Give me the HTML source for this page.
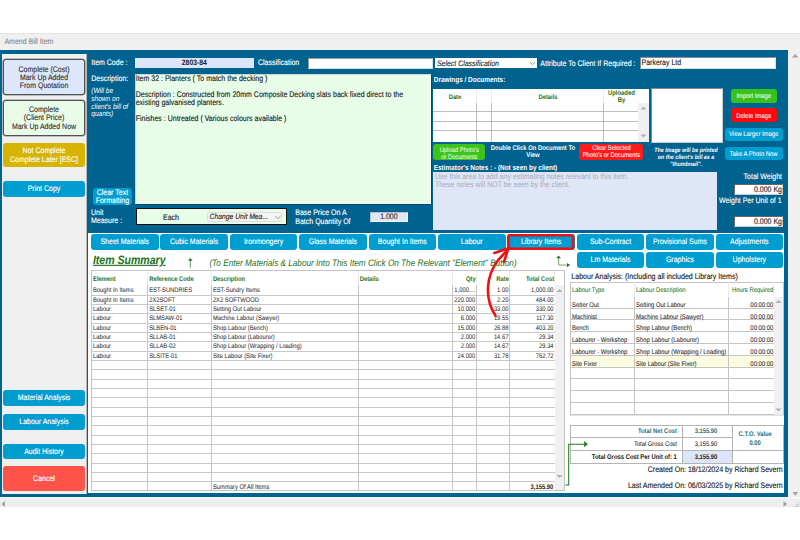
<!DOCTYPE html><html><head><meta charset="utf-8"><style>
html,body{margin:0;padding:0;width:800px;height:540px;overflow:hidden;background:#fff;}
body{position:relative;font-family:"Liberation Sans",sans-serif;text-rendering:geometricPrecision;}
div{position:absolute;box-sizing:border-box;}
.t{height:20px;line-height:20px;white-space:nowrap;transform:scaleY(1.15);transform-origin:50% 8.8px;}
</style></head><body>
<div style="left:0.00px;top:33.00px;width:800.00px;height:17.00px;background:#f0f0f0;"></div>
<div class="t" style="left:4.40px;top:33.20px;font-size:7px;color:#8c8c8c;-webkit-text-stroke:0.12px #8c8c8c;">Amend Bill Item</div>
<div style="left:0.00px;top:32.50px;width:800.00px;height:0.80px;background:#e4e4e4;"></div>
<div style="left:0.00px;top:50.20px;width:788.00px;height:446.80px;background:#00628f;"></div>
<div style="left:788.00px;top:50.20px;width:12.00px;height:446.80px;background:#f0f0f0;"></div>
<div style="left:0.00px;top:497.00px;width:800.00px;height:10.00px;background:#eeeeee;border-top:2px solid #f6f6f6;"></div>
<div style="left:2.00px;top:53.50px;width:85.00px;height:440.00px;background:#efefef;border-right:1px solid #b8b8b8;"></div>
<div style="left:3.00px;top:59.40px;width:82.00px;height:35.60px;background:#dde7fb;border-radius:3px;border:1px solid #505050;box-shadow:0 0 0 0.6px #8a8a8a;"></div>
<div class="t" style="left:-206.00px;width:500px;text-align:center;top:60.65px;font-size:7px;color:#333;-webkit-text-stroke:0.12px #333;">Complete (Cost)</div>
<div class="t" style="left:-206.00px;width:500px;text-align:center;top:68.80px;font-size:7px;color:#333;-webkit-text-stroke:0.12px #333;">Mark Up Added</div>
<div class="t" style="left:-206.00px;width:500px;text-align:center;top:76.90px;font-size:7px;color:#333;-webkit-text-stroke:0.12px #333;">From Quotation</div>
<div style="left:3.00px;top:100.00px;width:82.00px;height:35.80px;background:#e8fce8;border-radius:3px;border:1px solid #505050;box-shadow:0 0 0 0.6px #8a8a8a;"></div>
<div class="t" style="left:-206.00px;width:500px;text-align:center;top:101.30px;font-size:7px;color:#333;-webkit-text-stroke:0.12px #333;">Complete</div>
<div class="t" style="left:-206.00px;width:500px;text-align:center;top:109.40px;font-size:7px;color:#333;-webkit-text-stroke:0.12px #333;">(Client Price)</div>
<div class="t" style="left:-206.00px;width:500px;text-align:center;top:117.50px;font-size:7px;color:#333;-webkit-text-stroke:0.12px #333;">Mark Up Added Now</div>
<div style="left:3.00px;top:142.75px;width:82.00px;height:24.50px;background:#d6b400;border-radius:3px;"></div>
<div class="t" style="left:-206.00px;width:500px;text-align:center;top:142.40px;font-size:7px;color:#fff;-webkit-text-stroke:0.12px #fff;">Not Complete</div>
<div class="t" style="left:-206.00px;width:500px;text-align:center;top:151.30px;font-size:7px;color:#fff;-webkit-text-stroke:0.12px #fff;">Complete Later [ESC]</div>
<div style="left:3.00px;top:181.00px;width:82.00px;height:16.00px;background:#009dd0;border-radius:3px;"></div>
<div class="t" style="left:-206.00px;width:500px;text-align:center;top:180.00px;font-size:7px;color:#fff;-webkit-text-stroke:0.12px #fff;">Print Copy</div>
<div style="left:3.00px;top:390.00px;width:82.00px;height:16.00px;background:#009dd0;border-radius:3px;"></div>
<div class="t" style="left:-206.00px;width:500px;text-align:center;top:389.40px;font-size:7px;color:#fff;-webkit-text-stroke:0.12px #fff;">Material Analysis</div>
<div style="left:3.00px;top:414.00px;width:82.00px;height:16.00px;background:#009dd0;border-radius:3px;"></div>
<div class="t" style="left:-206.00px;width:500px;text-align:center;top:413.30px;font-size:7px;color:#fff;-webkit-text-stroke:0.12px #fff;">Labour Analysis</div>
<div style="left:3.00px;top:443.75px;width:82.00px;height:15.65px;background:#009dd0;border-radius:3px;"></div>
<div class="t" style="left:-206.00px;width:500px;text-align:center;top:442.90px;font-size:7px;color:#fff;-webkit-text-stroke:0.12px #fff;">Audit History</div>
<div style="left:3.00px;top:466.00px;width:82.00px;height:24.90px;background:#ff5248;border-radius:3px;"></div>
<div class="t" style="left:-206.00px;width:500px;text-align:center;top:469.65px;font-size:7px;color:#fff;-webkit-text-stroke:0.12px #fff;">Cancel</div>
<div class="t" style="left:91.25px;top:54.40px;font-size:7px;color:#fff;-webkit-text-stroke:0.12px #fff;">Item Code :</div>
<div style="left:135.00px;top:58.00px;width:118.50px;height:10.00px;background:#dde6f8;"></div>
<div class="t" style="left:-55.70px;width:500px;text-align:center;top:53.80px;font-size:6.8px;color:#1a1a1a;font-weight:bold;">2803-84</div>
<div class="t" style="left:258.00px;top:54.20px;font-size:7px;color:#fff;-webkit-text-stroke:0.12px #fff;">Classification</div>
<div style="left:308.40px;top:58.00px;width:124.40px;height:10.80px;background:#fff;border:1px solid #9a9a9a;border-right-color:#ddd;border-bottom-color:#ddd;"></div>
<div style="left:434.70px;top:58.00px;width:102.60px;height:10.40px;background:#fff;"></div>
<div class="t" style="left:437.00px;top:54.60px;font-size:6.93px;color:#222;font-style:italic;-webkit-text-stroke:0.1px #222;">Select Classification</div>
<div class="t" style="left:540.30px;top:54.70px;font-size:7px;color:#fff;-webkit-text-stroke:0.12px #fff;">Attribute To Client If Required :</div>
<div style="left:640.30px;top:57.20px;width:136.20px;height:11.60px;background:#fff;border:1px solid #8a8a8a;border-right-color:#ddd;border-bottom-color:#ddd;"></div>
<div class="t" style="left:641.50px;top:53.80px;font-size:7px;color:#222;-webkit-text-stroke:0.12px #222;">Parkeray Ltd</div>
<div class="t" style="left:91.25px;top:69.90px;font-size:7px;color:#fff;-webkit-text-stroke:0.12px #fff;">Description:</div>
<div class="t" style="left:91.25px;top:82.15px;font-size:6.55px;color:#fff;font-style:italic;">(Will be</div>
<div class="t" style="left:91.25px;top:89.90px;font-size:6.55px;color:#fff;font-style:italic;">shown on</div>
<div class="t" style="left:91.25px;top:97.50px;font-size:6.55px;color:#fff;font-style:italic;">client's bill of</div>
<div class="t" style="left:91.25px;top:104.90px;font-size:6.55px;color:#fff;font-style:italic;">quants)</div>
<div style="left:135.30px;top:73.60px;width:295.50px;height:130.70px;background:#e8fde8;border:1px solid #c9d6c9;border-right-color:#f8fff4;border-bottom-color:#f8fff4;box-shadow:1px 1px 0 #004c78;"></div>
<div class="t" style="left:135.70px;top:69.90px;font-size:7.03px;color:#222;-webkit-text-stroke:0.12px #222;">Item 32 : Planters ( To match the decking )</div>
<div class="t" style="left:135.70px;top:86.30px;font-size:7.03px;color:#222;-webkit-text-stroke:0.12px #222;">Description : Constructed from 20mm Composite Decking slats back fixed direct to the</div>
<div class="t" style="left:135.70px;top:94.40px;font-size:7.03px;color:#222;-webkit-text-stroke:0.12px #222;">existing galvanised planters.</div>
<div class="t" style="left:135.70px;top:110.40px;font-size:7.03px;color:#222;-webkit-text-stroke:0.12px #222;">Finishes : Untreated ( Various colours available )</div>
<div style="left:92.90px;top:187.75px;width:39.00px;height:16.85px;background:#009dd0;border-radius:3px;"></div>
<div class="t" style="left:-137.60px;width:500px;text-align:center;top:184.20px;font-size:7px;color:#fff;-webkit-text-stroke:0.12px #fff;">Clear Text</div>
<div class="t" style="left:-137.60px;width:500px;text-align:center;top:192.30px;font-size:7px;color:#fff;-webkit-text-stroke:0.12px #fff;">Formatting</div>
<div class="t" style="left:91.00px;top:204.00px;font-size:7px;color:#fff;-webkit-text-stroke:0.12px #fff;">Unit</div>
<div class="t" style="left:91.00px;top:212.40px;font-size:7px;color:#fff;-webkit-text-stroke:0.12px #fff;">Measure :</div>
<div style="left:136.00px;top:208.10px;width:150.70px;height:16.90px;background:#e8fde8;border:1px solid #111;"></div>
<div class="t" style="left:-79.00px;width:500px;text-align:center;top:209.10px;font-size:7px;color:#222;-webkit-text-stroke:0.12px #222;">Each</div>
<div style="left:207.10px;top:211.90px;width:75.40px;height:9.70px;background:#f5f5f5;border:1px solid #ddd;border-radius:2px;"></div>
<div class="t" style="left:209.50px;top:208.10px;font-size:6.8px;color:#222;font-style:italic;-webkit-text-stroke:0.1px #222;">Change Unit Mea...</div>
<div class="t" style="left:295.30px;top:204.20px;font-size:7px;color:#fff;-webkit-text-stroke:0.12px #fff;">Base Price On A</div>
<div class="t" style="left:295.30px;top:212.70px;font-size:7px;color:#fff;-webkit-text-stroke:0.12px #fff;">Batch Quantity Of</div>
<div style="left:369.60px;top:211.70px;width:38.70px;height:10.10px;background:#dfe6f6;border:1px solid #b8bdd0;border-right-color:#f4f6fc;border-bottom-color:#f4f6fc;"></div>
<div class="t" style="left:138.90px;width:500px;text-align:center;top:207.90px;font-size:7px;color:#333;-webkit-text-stroke:0.12px #333;">1.000</div>
<div class="t" style="left:433.75px;top:71.30px;font-size:6.45px;color:#fff;font-weight:bold;">Drawings / Documents:</div>
<div style="left:432.50px;top:88.50px;width:216.10px;height:53.00px;background:#fff;"></div>
<div style="left:476.00px;top:88.50px;width:1.00px;height:14.50px;background:#eeeeee;"></div>
<div style="left:476.00px;top:103.00px;width:1.00px;height:38.50px;background:#bdbdbd;"></div>
<div style="left:491.00px;top:88.50px;width:1.00px;height:14.50px;background:#eeeeee;"></div>
<div style="left:491.00px;top:103.00px;width:1.00px;height:38.50px;background:#bdbdbd;"></div>
<div style="left:603.00px;top:88.50px;width:1.00px;height:14.50px;background:#eeeeee;"></div>
<div style="left:603.00px;top:103.00px;width:1.00px;height:38.50px;background:#bdbdbd;"></div>
<div style="left:432.50px;top:111.40px;width:205.90px;height:1.00px;background:#bdbdbd;"></div>
<div style="left:432.50px;top:121.00px;width:205.90px;height:1.00px;background:#bdbdbd;"></div>
<div style="left:432.50px;top:130.40px;width:205.90px;height:1.00px;background:#bdbdbd;"></div>
<div style="left:638.40px;top:103.00px;width:10.20px;height:38.50px;background:#f0f0f0;"></div>
<div class="t" style="left:205.00px;width:500px;text-align:center;top:87.70px;font-size:5.8px;color:#22721e;font-weight:bold;">Date</div>
<div class="t" style="left:298.00px;width:500px;text-align:center;top:87.70px;font-size:5.8px;color:#22721e;font-weight:bold;">Details</div>
<div class="t" style="left:371.40px;width:500px;text-align:center;top:84.30px;font-size:5.9px;color:#22721e;font-weight:bold;">Uploaded</div>
<div class="t" style="left:371.40px;width:500px;text-align:center;top:91.10px;font-size:5.9px;color:#22721e;font-weight:bold;">By</div>
<div style="left:651.30px;top:87.90px;width:72.20px;height:54.90px;background:#fff;border:1px solid #888;border-right-color:#ccc;border-bottom-color:#ccc;"></div>
<div style="left:731.00px;top:89.00px;width:45.60px;height:13.90px;background:#34c21b;border-radius:3px;"></div>
<div class="t" style="left:503.80px;width:500px;text-align:center;top:87.00px;font-size:5.9px;color:#fff;-webkit-text-stroke:0.05px #fff;">Import Image</div>
<div style="left:731.00px;top:108.10px;width:45.60px;height:14.10px;background:#ff0a0a;border-radius:3px;"></div>
<div class="t" style="left:503.80px;width:500px;text-align:center;top:106.60px;font-size:5.9px;color:#fff;-webkit-text-stroke:0.05px #fff;">Delete Image</div>
<div style="left:724.80px;top:127.80px;width:57.80px;height:13.70px;background:#009dd0;border-radius:3px;"></div>
<div class="t" style="left:503.70px;width:500px;text-align:center;top:125.20px;font-size:5.9px;color:#fff;-webkit-text-stroke:0.05px #fff;">View Larger Image</div>
<div style="left:724.80px;top:146.60px;width:57.80px;height:13.70px;background:#009dd0;border-radius:3px;"></div>
<div class="t" style="left:503.70px;width:500px;text-align:center;top:144.50px;font-size:5.9px;color:#fff;-webkit-text-stroke:0.05px #fff;">Take A Photo Now</div>
<div style="left:433.40px;top:144.10px;width:51.90px;height:16.20px;background:#3cc41c;border-radius:3px;"></div>
<div class="t" style="left:209.35px;width:500px;text-align:center;top:140.90px;font-size:5.84px;color:#eafce0;-webkit-text-stroke:0.05px #eafce0;">Upload Photo's</div>
<div class="t" style="left:209.35px;width:500px;text-align:center;top:147.90px;font-size:5.84px;color:#eafce0;-webkit-text-stroke:0.05px #eafce0;">or Documents</div>
<div class="t" style="left:283.00px;width:500px;text-align:center;top:139.30px;font-size:5.9px;color:#fff;font-weight:bold;">Double Click On Document To</div>
<div class="t" style="left:283.00px;width:500px;text-align:center;top:146.20px;font-size:5.9px;color:#fff;font-weight:bold;">View</div>
<div style="left:579.40px;top:144.00px;width:64.10px;height:16.00px;background:#ff1a1a;border-radius:3px;"></div>
<div class="t" style="left:361.45px;width:500px;text-align:center;top:139.20px;font-size:5.87px;color:#fff;-webkit-text-stroke:0.05px #fff;">Clear Selected</div>
<div class="t" style="left:361.45px;width:500px;text-align:center;top:146.20px;font-size:5.87px;color:#fff;-webkit-text-stroke:0.05px #fff;">Photo's or Documents</div>
<div class="t" style="left:436.00px;width:500px;text-align:center;top:140.90px;font-size:5.3px;color:#fff;font-weight:bold;font-style:italic;">The Image will be printed</div>
<div class="t" style="left:436.00px;width:500px;text-align:center;top:147.80px;font-size:5.3px;color:#fff;font-weight:bold;font-style:italic;">on the client's bill as a</div>
<div class="t" style="left:436.00px;width:500px;text-align:center;top:154.80px;font-size:5.3px;color:#fff;font-weight:bold;font-style:italic;">"thumbnail".</div>
<div class="t" style="left:433.75px;top:158.70px;font-size:6.45px;color:#fff;font-weight:bold;">Estimator's Notes : - (Not seen by client)</div>
<div style="left:432.80px;top:172.30px;width:284.20px;height:58.00px;background:#dfe6f7;"></div>
<div class="t" style="left:435.00px;top:167.70px;font-size:7px;color:#a9a9b9;">Use this area to add any estimating notes relevant to this item.</div>
<div class="t" style="left:435.00px;top:176.10px;font-size:7px;color:#a9a9b9;">These notes will NOT be seen by the client.</div>
<div class="t" style="left:282.00px;width:500px;text-align:right;top:167.90px;font-size:7px;color:#fff;-webkit-text-stroke:0.12px #fff;">Total Weight</div>
<div style="left:733.80px;top:183.50px;width:49.20px;height:11.30px;background:#fff;border:1px solid #666;border-right-color:#ccc;border-bottom-color:#ccc;"></div>
<div class="t" style="left:282.00px;width:500px;text-align:right;top:180.50px;font-size:7px;color:#222;-webkit-text-stroke:0.12px #222;">0.000 Kg</div>
<div class="t" style="left:281.60px;width:500px;text-align:right;top:192.30px;font-size:7px;color:#fff;-webkit-text-stroke:0.12px #fff;">Weight Per Unit of 1</div>
<div style="left:733.80px;top:216.00px;width:49.20px;height:11.20px;background:#fff;border:1px solid #666;border-right-color:#ccc;border-bottom-color:#ccc;"></div>
<div class="t" style="left:282.00px;width:500px;text-align:right;top:212.80px;font-size:7px;color:#222;-webkit-text-stroke:0.12px #222;">0.000 Kg</div>
<div style="left:88.00px;top:232.50px;width:696.00px;height:260.50px;background:#fff;"></div>
<div style="left:91.00px;top:234.00px;width:67.50px;height:15.80px;background:#009dd0;border-radius:3px;"></div>
<div class="t" style="left:-125.25px;width:500px;text-align:center;top:233.10px;font-size:7px;color:#fff;-webkit-text-stroke:0.12px #fff;">Sheet Materials</div>
<div style="left:160.40px;top:234.00px;width:67.50px;height:15.80px;background:#009dd0;border-radius:3px;"></div>
<div class="t" style="left:-55.85px;width:500px;text-align:center;top:233.10px;font-size:7px;color:#fff;-webkit-text-stroke:0.12px #fff;">Cubic Materials</div>
<div style="left:229.80px;top:234.00px;width:67.50px;height:15.80px;background:#009dd0;border-radius:3px;"></div>
<div class="t" style="left:13.55px;width:500px;text-align:center;top:233.10px;font-size:7px;color:#fff;-webkit-text-stroke:0.12px #fff;">Ironmongery</div>
<div style="left:299.20px;top:234.00px;width:67.50px;height:15.80px;background:#009dd0;border-radius:3px;"></div>
<div class="t" style="left:82.95px;width:500px;text-align:center;top:233.10px;font-size:7px;color:#fff;-webkit-text-stroke:0.12px #fff;">Glass Materials</div>
<div style="left:368.60px;top:234.00px;width:67.50px;height:15.80px;background:#009dd0;border-radius:3px;"></div>
<div class="t" style="left:152.35px;width:500px;text-align:center;top:233.10px;font-size:7px;color:#fff;-webkit-text-stroke:0.12px #fff;">Bought In Items</div>
<div style="left:438.00px;top:234.00px;width:67.50px;height:15.80px;background:#009dd0;border-radius:3px;"></div>
<div class="t" style="left:221.75px;width:500px;text-align:center;top:233.10px;font-size:7px;color:#fff;-webkit-text-stroke:0.12px #fff;">Labour</div>
<div style="left:507.40px;top:234.00px;width:67.50px;height:15.80px;background:#009dd0;border-radius:3px;"></div>
<div class="t" style="left:291.15px;width:500px;text-align:center;top:233.10px;font-size:7px;color:#fff;-webkit-text-stroke:0.12px #fff;">Library Items</div>
<div style="left:576.80px;top:234.00px;width:67.50px;height:15.80px;background:#009dd0;border-radius:3px;"></div>
<div class="t" style="left:360.55px;width:500px;text-align:center;top:233.10px;font-size:7px;color:#fff;-webkit-text-stroke:0.12px #fff;">Sub-Contract</div>
<div style="left:646.20px;top:234.00px;width:67.50px;height:15.80px;background:#009dd0;border-radius:3px;"></div>
<div class="t" style="left:429.95px;width:500px;text-align:center;top:233.10px;font-size:7px;color:#fff;-webkit-text-stroke:0.12px #fff;">Provisional Sums</div>
<div style="left:715.60px;top:234.00px;width:67.50px;height:15.80px;background:#009dd0;border-radius:3px;"></div>
<div class="t" style="left:499.35px;width:500px;text-align:center;top:233.10px;font-size:7px;color:#fff;-webkit-text-stroke:0.12px #fff;">Adjustments</div>
<div style="left:576.80px;top:252.40px;width:67.50px;height:15.30px;background:#009dd0;border-radius:3px;"></div>
<div class="t" style="left:360.55px;width:500px;text-align:center;top:251.30px;font-size:7px;color:#fff;-webkit-text-stroke:0.12px #fff;">Lm Materials</div>
<div style="left:646.20px;top:252.40px;width:67.50px;height:15.30px;background:#009dd0;border-radius:3px;"></div>
<div class="t" style="left:429.95px;width:500px;text-align:center;top:251.30px;font-size:7px;color:#fff;-webkit-text-stroke:0.12px #fff;">Graphics</div>
<div style="left:715.60px;top:252.40px;width:67.50px;height:15.30px;background:#009dd0;border-radius:3px;"></div>
<div class="t" style="left:499.35px;width:500px;text-align:center;top:251.30px;font-size:7px;color:#fff;-webkit-text-stroke:0.12px #fff;">Upholstery</div>
<div class="t" style="left:92.90px;top:249.60px;font-size:10.56px;color:#22721e;font-weight:bold;font-style:italic;text-decoration:underline;">Item Summary</div>
<div class="t" style="left:209.40px;top:253.50px;font-size:8.2px;color:#22721e;font-style:italic;">(To Enter Materials &amp; Labour Into This Item Click On The Relevant "Element" Button)</div>
<div style="left:91.00px;top:270.00px;width:474.00px;height:221.00px;background:#fff;border:1px solid #c4c4c4;"></div>
<div style="left:147.00px;top:285.30px;width:1.00px;height:205.40px;background:#c4c4c4;"></div>
<div style="left:147.00px;top:270.60px;width:1.00px;height:14.70px;background:#ececec;"></div>
<div style="left:211.00px;top:285.30px;width:1.00px;height:205.40px;background:#c4c4c4;"></div>
<div style="left:211.00px;top:270.60px;width:1.00px;height:14.70px;background:#ececec;"></div>
<div style="left:357.70px;top:285.30px;width:1.00px;height:205.40px;background:#c4c4c4;"></div>
<div style="left:357.70px;top:270.60px;width:1.00px;height:14.70px;background:#ececec;"></div>
<div style="left:451.50px;top:285.30px;width:1.00px;height:205.40px;background:#c4c4c4;"></div>
<div style="left:451.50px;top:270.60px;width:1.00px;height:14.70px;background:#ececec;"></div>
<div style="left:475.80px;top:285.30px;width:1.00px;height:205.40px;background:#c4c4c4;"></div>
<div style="left:475.80px;top:270.60px;width:1.00px;height:14.70px;background:#ececec;"></div>
<div style="left:508.90px;top:285.30px;width:1.00px;height:205.40px;background:#c4c4c4;"></div>
<div style="left:508.90px;top:270.60px;width:1.00px;height:14.70px;background:#ececec;"></div>
<div style="left:554.10px;top:270.60px;width:1.00px;height:14.70px;background:#ececec;"></div>
<div style="left:91.50px;top:294.60px;width:463.10px;height:1.00px;background:#c8c8c8;"></div>
<div style="left:91.50px;top:303.93px;width:463.10px;height:1.00px;background:#c8c8c8;"></div>
<div style="left:91.50px;top:313.26px;width:463.10px;height:1.00px;background:#c8c8c8;"></div>
<div style="left:91.50px;top:322.59px;width:463.10px;height:1.00px;background:#c8c8c8;"></div>
<div style="left:91.50px;top:331.92px;width:463.10px;height:1.00px;background:#c8c8c8;"></div>
<div style="left:91.50px;top:341.25px;width:463.10px;height:1.00px;background:#c8c8c8;"></div>
<div style="left:91.50px;top:350.58px;width:463.10px;height:1.00px;background:#c8c8c8;"></div>
<div style="left:91.50px;top:359.91px;width:463.10px;height:1.00px;background:#c8c8c8;"></div>
<div style="left:91.50px;top:369.24px;width:463.10px;height:1.00px;background:#c8c8c8;"></div>
<div style="left:91.50px;top:378.57px;width:463.10px;height:1.00px;background:#c8c8c8;"></div>
<div style="left:91.50px;top:387.90px;width:463.10px;height:1.00px;background:#c8c8c8;"></div>
<div style="left:91.50px;top:397.23px;width:463.10px;height:1.00px;background:#c8c8c8;"></div>
<div style="left:91.50px;top:406.56px;width:463.10px;height:1.00px;background:#c8c8c8;"></div>
<div style="left:91.50px;top:415.89px;width:463.10px;height:1.00px;background:#c8c8c8;"></div>
<div style="left:91.50px;top:425.22px;width:463.10px;height:1.00px;background:#c8c8c8;"></div>
<div style="left:91.50px;top:434.55px;width:463.10px;height:1.00px;background:#c8c8c8;"></div>
<div style="left:91.50px;top:443.88px;width:463.10px;height:1.00px;background:#c8c8c8;"></div>
<div style="left:91.50px;top:453.21px;width:463.10px;height:1.00px;background:#c8c8c8;"></div>
<div style="left:91.50px;top:462.54px;width:463.10px;height:1.00px;background:#c8c8c8;"></div>
<div style="left:91.50px;top:471.87px;width:463.10px;height:1.00px;background:#c8c8c8;"></div>
<div style="left:91.50px;top:481.20px;width:463.10px;height:1.00px;background:#c8c8c8;"></div>
<div style="left:554.60px;top:285.30px;width:9.40px;height:204.70px;background:#f0f0f0;"></div>
<div class="t" style="left:93.00px;top:269.80px;font-size:5.85px;color:#22721e;font-weight:bold;">Element</div>
<div class="t" style="left:149.20px;top:269.80px;font-size:5.85px;color:#22721e;font-weight:bold;">Reference Code</div>
<div class="t" style="left:212.90px;top:269.80px;font-size:5.85px;color:#22721e;font-weight:bold;">Description</div>
<div class="t" style="left:359.70px;top:269.80px;font-size:5.85px;color:#22721e;font-weight:bold;">Details</div>
<div class="t" style="left:-24.20px;width:500px;text-align:right;top:269.80px;font-size:5.85px;color:#22721e;font-weight:bold;">Qty</div>
<div class="t" style="left:8.90px;width:500px;text-align:right;top:269.80px;font-size:5.85px;color:#22721e;font-weight:bold;">Rate</div>
<div class="t" style="left:54.10px;width:500px;text-align:right;top:269.80px;font-size:5.85px;color:#22721e;font-weight:bold;">Total Cost</div>
<div class="t" style="left:93.00px;top:281.20px;font-size:5.8px;color:#333;-webkit-text-stroke:0.05px #333;">Bought In Items</div>
<div class="t" style="left:149.20px;top:281.20px;font-size:5.8px;color:#333;-webkit-text-stroke:0.05px #333;">EST-SUNDRIES</div>
<div class="t" style="left:212.90px;top:281.20px;font-size:5.8px;color:#333;-webkit-text-stroke:0.05px #333;">EST-Sundry Items</div>
<div class="t" style="left:-24.70px;width:500px;text-align:right;top:281.20px;font-size:5.8px;color:#333;-webkit-text-stroke:0.05px #333;">1,000....</div>
<div class="t" style="left:8.40px;width:500px;text-align:right;top:281.20px;font-size:5.8px;color:#333;-webkit-text-stroke:0.05px #333;">1.00</div>
<div class="t" style="left:53.60px;width:500px;text-align:right;top:281.20px;font-size:5.8px;color:#333;-webkit-text-stroke:0.05px #333;">1,000.00</div>
<div class="t" style="left:93.00px;top:290.53px;font-size:5.8px;color:#333;-webkit-text-stroke:0.05px #333;">Bought In Items</div>
<div class="t" style="left:149.20px;top:290.53px;font-size:5.8px;color:#333;-webkit-text-stroke:0.05px #333;">2X2SOFT</div>
<div class="t" style="left:212.90px;top:290.53px;font-size:5.8px;color:#333;-webkit-text-stroke:0.05px #333;">2X2 SOFTWOOD</div>
<div class="t" style="left:-24.70px;width:500px;text-align:right;top:290.53px;font-size:5.8px;color:#333;-webkit-text-stroke:0.05px #333;">220.000</div>
<div class="t" style="left:8.40px;width:500px;text-align:right;top:290.53px;font-size:5.8px;color:#333;-webkit-text-stroke:0.05px #333;">2.20</div>
<div class="t" style="left:53.60px;width:500px;text-align:right;top:290.53px;font-size:5.8px;color:#333;-webkit-text-stroke:0.05px #333;">484.00</div>
<div class="t" style="left:93.00px;top:299.86px;font-size:5.8px;color:#333;-webkit-text-stroke:0.05px #333;">Labour</div>
<div class="t" style="left:149.20px;top:299.86px;font-size:5.8px;color:#333;-webkit-text-stroke:0.05px #333;">SLSET-01</div>
<div class="t" style="left:212.90px;top:299.86px;font-size:5.8px;color:#333;-webkit-text-stroke:0.05px #333;">Setting Out Labour</div>
<div class="t" style="left:-24.70px;width:500px;text-align:right;top:299.86px;font-size:5.8px;color:#333;-webkit-text-stroke:0.05px #333;">10.000</div>
<div class="t" style="left:8.40px;width:500px;text-align:right;top:299.86px;font-size:5.8px;color:#333;-webkit-text-stroke:0.05px #333;">33.00</div>
<div class="t" style="left:53.60px;width:500px;text-align:right;top:299.86px;font-size:5.8px;color:#333;-webkit-text-stroke:0.05px #333;">330.00</div>
<div class="t" style="left:93.00px;top:309.19px;font-size:5.8px;color:#333;-webkit-text-stroke:0.05px #333;">Labour</div>
<div class="t" style="left:149.20px;top:309.19px;font-size:5.8px;color:#333;-webkit-text-stroke:0.05px #333;">SLMSAW-01</div>
<div class="t" style="left:212.90px;top:309.19px;font-size:5.8px;color:#333;-webkit-text-stroke:0.05px #333;">Machine Labour (Sawyer)</div>
<div class="t" style="left:-24.70px;width:500px;text-align:right;top:309.19px;font-size:5.8px;color:#333;-webkit-text-stroke:0.05px #333;">6.000</div>
<div class="t" style="left:8.40px;width:500px;text-align:right;top:309.19px;font-size:5.8px;color:#333;-webkit-text-stroke:0.05px #333;">19.55</div>
<div class="t" style="left:53.60px;width:500px;text-align:right;top:309.19px;font-size:5.8px;color:#333;-webkit-text-stroke:0.05px #333;">117.30</div>
<div class="t" style="left:93.00px;top:318.52px;font-size:5.8px;color:#333;-webkit-text-stroke:0.05px #333;">Labour</div>
<div class="t" style="left:149.20px;top:318.52px;font-size:5.8px;color:#333;-webkit-text-stroke:0.05px #333;">SLBEN-01</div>
<div class="t" style="left:212.90px;top:318.52px;font-size:5.8px;color:#333;-webkit-text-stroke:0.05px #333;">Shop Labour (Bench)</div>
<div class="t" style="left:-24.70px;width:500px;text-align:right;top:318.52px;font-size:5.8px;color:#333;-webkit-text-stroke:0.05px #333;">15.000</div>
<div class="t" style="left:8.40px;width:500px;text-align:right;top:318.52px;font-size:5.8px;color:#333;-webkit-text-stroke:0.05px #333;">26.88</div>
<div class="t" style="left:53.60px;width:500px;text-align:right;top:318.52px;font-size:5.8px;color:#333;-webkit-text-stroke:0.05px #333;">403.20</div>
<div class="t" style="left:93.00px;top:327.85px;font-size:5.8px;color:#333;-webkit-text-stroke:0.05px #333;">Labour</div>
<div class="t" style="left:149.20px;top:327.85px;font-size:5.8px;color:#333;-webkit-text-stroke:0.05px #333;">SLLAB-01</div>
<div class="t" style="left:212.90px;top:327.85px;font-size:5.8px;color:#333;-webkit-text-stroke:0.05px #333;">Shop Labour (Labourer)</div>
<div class="t" style="left:-24.70px;width:500px;text-align:right;top:327.85px;font-size:5.8px;color:#333;-webkit-text-stroke:0.05px #333;">2.000</div>
<div class="t" style="left:8.40px;width:500px;text-align:right;top:327.85px;font-size:5.8px;color:#333;-webkit-text-stroke:0.05px #333;">14.67</div>
<div class="t" style="left:53.60px;width:500px;text-align:right;top:327.85px;font-size:5.8px;color:#333;-webkit-text-stroke:0.05px #333;">29.34</div>
<div class="t" style="left:93.00px;top:337.18px;font-size:5.8px;color:#333;-webkit-text-stroke:0.05px #333;">Labour</div>
<div class="t" style="left:149.20px;top:337.18px;font-size:5.8px;color:#333;-webkit-text-stroke:0.05px #333;">SLLAB-02</div>
<div class="t" style="left:212.90px;top:337.18px;font-size:5.8px;color:#333;-webkit-text-stroke:0.05px #333;">Shop Labour (Wrapping / Loading)</div>
<div class="t" style="left:-24.70px;width:500px;text-align:right;top:337.18px;font-size:5.8px;color:#333;-webkit-text-stroke:0.05px #333;">2.000</div>
<div class="t" style="left:8.40px;width:500px;text-align:right;top:337.18px;font-size:5.8px;color:#333;-webkit-text-stroke:0.05px #333;">14.67</div>
<div class="t" style="left:53.60px;width:500px;text-align:right;top:337.18px;font-size:5.8px;color:#333;-webkit-text-stroke:0.05px #333;">29.34</div>
<div class="t" style="left:93.00px;top:346.51px;font-size:5.8px;color:#333;-webkit-text-stroke:0.05px #333;">Labour</div>
<div class="t" style="left:149.20px;top:346.51px;font-size:5.8px;color:#333;-webkit-text-stroke:0.05px #333;">SLSITE-01</div>
<div class="t" style="left:212.90px;top:346.51px;font-size:5.8px;color:#333;-webkit-text-stroke:0.05px #333;">Site Labour (Site Fixer)</div>
<div class="t" style="left:-24.70px;width:500px;text-align:right;top:346.51px;font-size:5.8px;color:#333;-webkit-text-stroke:0.05px #333;">24.000</div>
<div class="t" style="left:8.40px;width:500px;text-align:right;top:346.51px;font-size:5.8px;color:#333;-webkit-text-stroke:0.05px #333;">31.78</div>
<div class="t" style="left:53.60px;width:500px;text-align:right;top:346.51px;font-size:5.8px;color:#333;-webkit-text-stroke:0.05px #333;">762.72</div>
<div class="t" style="left:212.90px;top:478.10px;font-size:5.85px;color:#333;-webkit-text-stroke:0.05px #333;">Summary Of All Items</div>
<div class="t" style="left:53.30px;width:500px;text-align:right;top:478.10px;font-size:5.85px;color:#222;font-weight:bold;">3,155.90</div>
<div class="t" style="left:571.30px;top:267.70px;font-size:7.06px;color:#222;-webkit-text-stroke:0.12px #222;">Labour Analysis: (Including all included Library Items)</div>
<div style="left:570.00px;top:282.00px;width:214.00px;height:133.50px;background:#fff;border:1px solid #c4c4c4;border-bottom:2px solid #e4e4e4;"></div>
<div style="left:570.50px;top:355.10px;width:203.10px;height:11.80px;background:#fcfce0;"></div>
<div style="left:773.10px;top:282.40px;width:1.00px;height:14.10px;background:#ececec;"></div>
<div style="left:633.80px;top:296.50px;width:1.00px;height:117.50px;background:#c4c4c4;"></div>
<div style="left:633.80px;top:282.40px;width:1.00px;height:14.10px;background:#ececec;"></div>
<div style="left:728.00px;top:296.50px;width:1.00px;height:117.50px;background:#c4c4c4;"></div>
<div style="left:728.00px;top:282.40px;width:1.00px;height:14.10px;background:#ececec;"></div>
<div style="left:570.50px;top:307.70px;width:203.10px;height:1.00px;background:#c4c4c4;"></div>
<div style="left:570.50px;top:319.46px;width:203.10px;height:1.00px;background:#c4c4c4;"></div>
<div style="left:570.50px;top:331.22px;width:203.10px;height:1.00px;background:#c4c4c4;"></div>
<div style="left:570.50px;top:342.98px;width:203.10px;height:1.00px;background:#c4c4c4;"></div>
<div style="left:570.50px;top:354.74px;width:203.10px;height:1.00px;background:#c4c4c4;"></div>
<div style="left:570.50px;top:366.50px;width:203.10px;height:1.00px;background:#c4c4c4;"></div>
<div style="left:570.50px;top:378.26px;width:203.10px;height:1.00px;background:#c4c4c4;"></div>
<div style="left:570.50px;top:390.02px;width:203.10px;height:1.00px;background:#c4c4c4;"></div>
<div style="left:570.50px;top:401.78px;width:203.10px;height:1.00px;background:#c4c4c4;"></div>
<div style="left:570.50px;top:413.54px;width:203.10px;height:1.00px;background:#c4c4c4;"></div>
<div style="left:773.60px;top:296.70px;width:9.40px;height:117.80px;background:#f0f0f0;"></div>
<div class="t" style="left:572.00px;top:281.40px;font-size:5.9px;color:#22721e;-webkit-text-stroke:0.05px #22721e;">Labour Type</div>
<div class="t" style="left:636.00px;top:281.40px;font-size:5.9px;color:#22721e;-webkit-text-stroke:0.05px #22721e;">Labour Description</div>
<div class="t" style="left:273.30px;width:500px;text-align:right;top:281.40px;font-size:5.9px;color:#22721e;-webkit-text-stroke:0.05px #22721e;">Hours Required</div>
<div class="t" style="left:572.00px;top:295.80px;font-size:5.9px;color:#222;-webkit-text-stroke:0.05px #222;">Setter Out</div>
<div class="t" style="left:636.00px;top:295.80px;font-size:5.9px;color:#222;-webkit-text-stroke:0.05px #222;">Setting Out Labour</div>
<div class="t" style="left:273.30px;width:500px;text-align:right;top:295.80px;font-size:5.9px;color:#222;-webkit-text-stroke:0.05px #222;">00:00:00</div>
<div class="t" style="left:572.00px;top:307.56px;font-size:5.9px;color:#222;-webkit-text-stroke:0.05px #222;">Machinist</div>
<div class="t" style="left:636.00px;top:307.56px;font-size:5.9px;color:#222;-webkit-text-stroke:0.05px #222;">Machine Labour (Sawyer)</div>
<div class="t" style="left:273.30px;width:500px;text-align:right;top:307.56px;font-size:5.9px;color:#222;-webkit-text-stroke:0.05px #222;">00:00:00</div>
<div class="t" style="left:572.00px;top:319.32px;font-size:5.9px;color:#222;-webkit-text-stroke:0.05px #222;">Bench</div>
<div class="t" style="left:636.00px;top:319.32px;font-size:5.9px;color:#222;-webkit-text-stroke:0.05px #222;">Shop Labour (Bench)</div>
<div class="t" style="left:273.30px;width:500px;text-align:right;top:319.32px;font-size:5.9px;color:#222;-webkit-text-stroke:0.05px #222;">00:00:00</div>
<div class="t" style="left:572.00px;top:331.08px;font-size:5.9px;color:#222;-webkit-text-stroke:0.05px #222;">Labourer - Workshop</div>
<div class="t" style="left:636.00px;top:331.08px;font-size:5.9px;color:#222;-webkit-text-stroke:0.05px #222;">Shop Labour (Labourer)</div>
<div class="t" style="left:273.30px;width:500px;text-align:right;top:331.08px;font-size:5.9px;color:#222;-webkit-text-stroke:0.05px #222;">00:00:00</div>
<div class="t" style="left:572.00px;top:342.84px;font-size:5.9px;color:#222;-webkit-text-stroke:0.05px #222;">Labourer - Workshop</div>
<div class="t" style="left:636.00px;top:342.84px;font-size:5.9px;color:#222;-webkit-text-stroke:0.05px #222;">Shop Labour (Wrapping / Loading)</div>
<div class="t" style="left:273.30px;width:500px;text-align:right;top:342.84px;font-size:5.9px;color:#222;-webkit-text-stroke:0.05px #222;">00:00:00</div>
<div class="t" style="left:572.00px;top:354.60px;font-size:5.9px;color:#222;-webkit-text-stroke:0.05px #222;">Site Fixer</div>
<div class="t" style="left:636.00px;top:354.60px;font-size:5.9px;color:#222;-webkit-text-stroke:0.05px #222;">Site Labour (Site Fixer)</div>
<div class="t" style="left:273.30px;width:500px;text-align:right;top:354.60px;font-size:5.9px;color:#222;-webkit-text-stroke:0.05px #222;">00:00:00</div>
<div style="left:570.00px;top:425.00px;width:214.00px;height:38.50px;background:#fff;border:1px solid #b4b4b4;"></div>
<div style="left:682.00px;top:425.00px;width:1.00px;height:38.00px;background:#b4b4b4;"></div>
<div style="left:732.00px;top:425.00px;width:1.00px;height:38.00px;background:#b4b4b4;"></div>
<div style="left:570.00px;top:437.00px;width:162.00px;height:1.00px;background:#b4b4b4;"></div>
<div style="left:570.00px;top:450.00px;width:214.00px;height:1.00px;background:#b4b4b4;"></div>
<div style="left:683.00px;top:451.00px;width:49.00px;height:11.50px;background:#dde6f8;"></div>
<div class="t" style="left:176.90px;width:500px;text-align:right;top:422.30px;font-size:5.82px;color:#1f6e80;font-weight:bold;">Total Net Cost</div>
<div class="t" style="left:456.00px;width:500px;text-align:center;top:422.30px;font-size:5.82px;color:#1f6e80;font-weight:bold;">3,155.90</div>
<div class="t" style="left:176.90px;width:500px;text-align:right;top:434.90px;font-size:5.82px;color:#222;-webkit-text-stroke:0.05px #222;">Total Gross Cost</div>
<div class="t" style="left:456.00px;width:500px;text-align:center;top:434.70px;font-size:5.82px;color:#222;-webkit-text-stroke:0.05px #222;">3,155.90</div>
<div class="t" style="left:176.90px;width:500px;text-align:right;top:447.50px;font-size:5.88px;color:#111;font-weight:bold;">Total Gross Cost Per Unit of: 1</div>
<div class="t" style="left:456.00px;width:500px;text-align:center;top:447.50px;font-size:5.82px;color:#222;font-weight:bold;">3,155.90</div>
<div class="t" style="left:505.20px;width:500px;text-align:center;top:424.70px;font-size:5.8px;color:#1f6e80;font-weight:bold;">C.T.O. Value</div>
<div class="t" style="left:505.20px;width:500px;text-align:center;top:434.10px;font-size:5.8px;color:#1f6e80;font-weight:bold;">0.00</div>
<div class="t" style="left:282.75px;width:500px;text-align:right;top:461.30px;font-size:7.02px;color:#222;-webkit-text-stroke:0.12px #222;">Created On: 18/12/2024 by Richard Severn</div>
<div class="t" style="left:282.75px;width:500px;text-align:right;top:477.20px;font-size:7.02px;color:#222;-webkit-text-stroke:0.12px #222;">Last Amended On: 06/03/2025 by Richard Severn</div>
<svg style="position:absolute;left:0;top:0" width="800" height="540" viewBox="0 0 800 540">
<g fill="#a0a0a0">
<path d="M792 57.5 L795.2 54 L798.4 57.5 Z"/>
<path d="M792.6 492 L798.2 492 L795.4 495.8 Z"/>
<circle cx="798.5" cy="502.8" r="0.5"/><circle cx="796.8" cy="504.5" r="0.5"/><circle cx="798.5" cy="504.5" r="0.5"/><circle cx="795.1" cy="506.2" r="0.5"/><circle cx="796.8" cy="506.2" r="0.5"/><circle cx="798.5" cy="506.2" r="0.5"/>
<path d="M5 501 L1.5 504 L5 507 Z"/>
<path d="M783.5 501 L787 504 L783.5 507 Z"/>
</g>
<g fill="#b0b0b0">
<path d="M640.5 109.5 L643.5 106.5 L646.5 109.5 Z"/>
<path d="M640.5 134.5 L643.5 137.5 L646.5 134.5 Z"/>
<path d="M556.5 292 L559.5 289 L562.5 292 Z"/>
<path d="M556.5 475 L559.5 478 L562.5 475 Z"/>
<path d="M775.5 303 L778.5 300 L781.5 303 Z"/>
<path d="M775.5 408.5 L778.5 411.5 L781.5 408.5 Z"/>
</g>
<path d="M530 62.2 L532.5 64.6 L535 62.2" fill="none" stroke="#666" stroke-width="0.7"/>
<path d="M275.3 216 L277.9 218.6 L280.5 216" fill="none" stroke="#777" stroke-width="0.7"/>
<g stroke="#23781f" stroke-width="1.1" fill="none">
<path d="M190.3 267.8 L190.3 260" stroke="#5f9a6a" stroke-width="1"/>
<path d="M190.3 257.9 L192.6 260.7 L188 260.7 Z" fill="#23781f" stroke="none"/>
<path d="M558.6 257.5 L558.6 265.1 L567.2 265.1" stroke="#6a9f5f" stroke-width="0.9"/>
<path d="M558.6 255.4 L560.9 258.2 L556.3 258.2 Z M570.1 265.1 L567 262.9 L567 267.3 Z" fill="#23781f" stroke="none"/>
<path d="M565.4 484.9 L568.7 484.9 L568.7 444.2 L585 444.2" stroke="#1f7a1f" stroke-width="1.05"/>
<path d="M587.9 444.2 L584.2 441.1 L584.2 447.3 Z" fill="#1f7a1f" stroke="none"/>
</g>
<rect x="508.4" y="235.2" width="64.6" height="13.6" rx="2" fill="none" stroke="#ee1010" stroke-width="2.6"/>
<path d="M495.5 315.8 C 484.5 299, 485.5 276, 498.5 259.5 L507.5 250" fill="none" stroke="#f01010" stroke-width="2.6" stroke-linecap="round"/>
<path d="M494.4 253 L508.3 248.3 L504 262" fill="none" stroke="#f01010" stroke-width="2.6" stroke-linecap="round" stroke-linejoin="round"/>
</svg>
</body></html>
